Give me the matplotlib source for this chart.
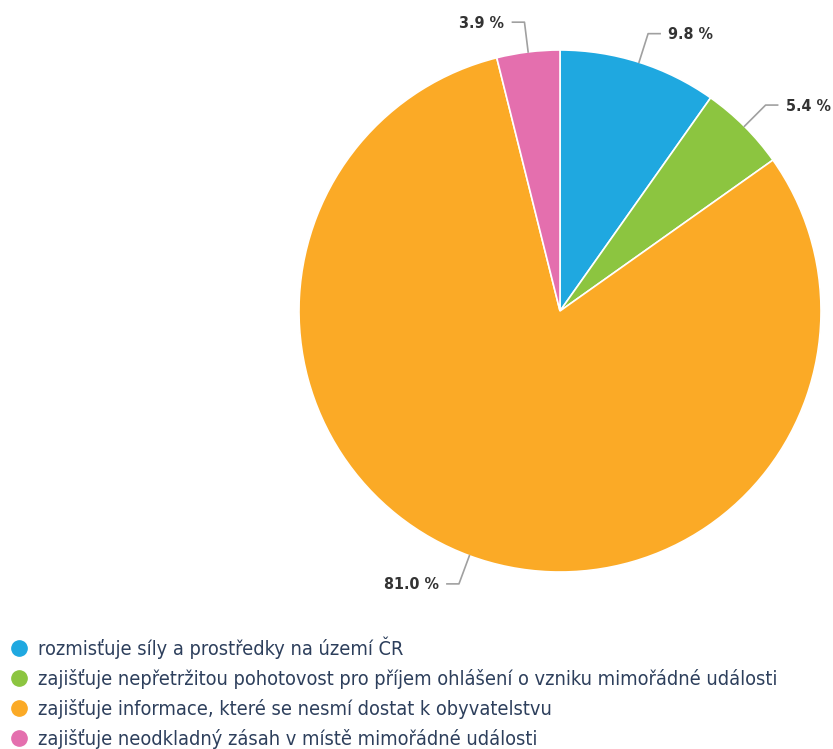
import numpy as np
import matplotlib
matplotlib.use("Agg")
import matplotlib.pyplot as plt
from matplotlib.lines import Line2D

labels = [
    "rozmisťuje síly a prostředky na území ČR",
    "zajišťuje nepřetržitou pohotovost pro příjem ohlášení o vzniku mimořádné události",
    "zajišťuje informace, které se nesmí dostat k obyvatelstvu",
    "zajišťuje neodkladný zásah v místě mimořádné události",
]
values = [9.8, 5.4, 81.0, 3.9]
colors = ["#1fa8e0", "#8cc540", "#fbaa26", "#e46fae"]

W, H = 833, 749
fig = plt.figure(figsize=(W / 100, H / 100), dpi=100)
ax = fig.add_axes([0, 0, 1, 1])

cx, cy, r = 560, H - 311, 261
wedges, _ = ax.pie(values, colors=colors, startangle=90, counterclock=False,
                   center=(cx, cy), radius=r, frame=True,
                   wedgeprops=dict(edgecolor="white", linewidth=1.2))
ax.set_xlim(0, W)
ax.set_ylim(0, H)
ax.set_aspect("equal")
ax.axis("off")

# data labels with connectors
for w, v in zip(wedges, values):
    ang = np.deg2rad((w.theta1 + w.theta2) / 2)
    x0, y0 = cx + r * np.cos(ang), cy + r * np.sin(ang)
    x1, y1 = cx + (r + 30) * np.cos(ang), cy + (r + 30) * np.sin(ang)
    side = 1 if np.cos(ang) >= 0 else -1
    x2 = x1 + side * 12
    ax.plot([x0, x1, x2], [y0, y1, y1], color="#a0a0a0", lw=1.2,
            solid_joinstyle="round")
    ax.text(x2 + side * 8, y1 - 1, f"{v:.1f} %", ha="left" if side > 0 else "right",
            va="center", fontsize=11.5, fontweight="bold", color="#333333",
            fontstretch="condensed")

handles = [Line2D([], [], marker="o", linestyle="none", markersize=11,
                  markerfacecolor=c, markeredgecolor=c) for c in colors]
fs = 14.3
px = fs * 100 / 72
fig.legend(handles, labels, loc="upper left",
           bbox_to_anchor=(0.0, (H - 646 + px / 2) / H),
           frameon=False, prop=dict(size=fs, stretch="condensed"),
           handlelength=38 / px, handletextpad=0.0,
           labelspacing=(30 - px) / px, borderpad=0, borderaxespad=0,
           labelcolor="#2d3f5c")

fig.savefig("out.png", dpi=100)
